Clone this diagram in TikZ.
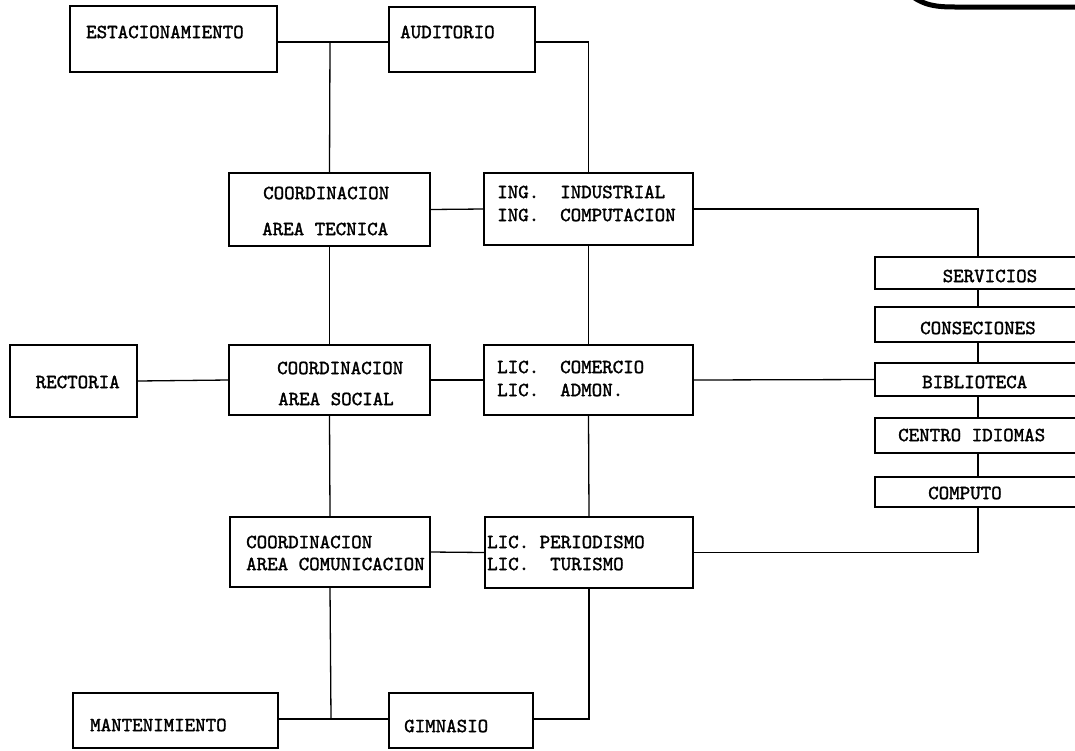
\documentclass[tikz,border=0pt]{standalone}
\usepackage{fontspec}
\newfontfamily\tw{lmmono10-regular.otf}[FakeBold=1.6]
\begin{document}
\begin{tikzpicture}[x=1pt,y=-1pt,
  box/.style={draw, line width=1.3pt, inner sep=0pt, rectangle},
  txt/.style={font=\tw\fontsize{20}{24}\selectfont, anchor=west, inner sep=0pt},
  link/.style={line width=1.3pt}]
\useasboundingbox (0,0) rectangle (1075,750);
% boxes
\node[box, minimum width=207pt, minimum height=66pt] (est) at (173.5,39) {};
\node[box, minimum width=146pt, minimum height=65pt] (aud) at (462,39.5) {};
\node[box, minimum width=201pt, minimum height=73pt] (tec) at (329.5,209.5) {};
\node[box, minimum width=209pt, minimum height=72pt] (ing) at (588.5,209) {};
\node[box, minimum width=127pt, minimum height=72pt] (rec) at (73.5,381) {};
\node[box, minimum width=201pt, minimum height=70pt] (soc) at (329.5,380) {};
\node[box, minimum width=209pt, minimum height=70pt] (com) at (588.5,380) {};
\node[box, minimum width=200pt, minimum height=70pt] (cmc) at (330,552) {};
\node[box, minimum width=208pt, minimum height=71pt] (per) at (589,552.5) {};
\node[box, minimum width=205pt, minimum height=55pt] (man) at (175.5,720.5) {};
\node[box, minimum width=144pt, minimum height=55pt] (gim) at (461,720.5) {};
\node[box, minimum width=206pt, minimum height=32pt] (ser) at (978,273) {};
\node[box, minimum width=206pt, minimum height=35pt] (con) at (978,324.5) {};
\node[box, minimum width=206pt, minimum height=33pt] (bib) at (978,379.5) {};
\node[box, minimum width=206pt, minimum height=35pt] (cid) at (978,435.5) {};
\node[box, minimum width=206pt, minimum height=30pt] (cpu) at (978,492) {};
% texts
\node[txt] (t1) at (86,32) {ESTACIONAMIENTO};
\node[txt] (t2) at (400,32) {AUDITORIO};
\node[txt] (t3) at (263,193) {COORDINACION};
\node[txt] (t4) at (262,229) {AREA TECNICA};
\node[txt] (t5) at (497,192) {ING.\ \ INDUSTRIAL};
\node[txt] (t6) at (497,215) {ING.\ \ COMPUTACION};
\node[txt] (t7) at (35.5,382) {RECTORIA};
\node[txt] (t8) at (277,368) {COORDINACION};
\node[txt] (t9) at (278,399) {AREA SOCIAL};
\node[txt] (t10) at (497,367) {LIC.\ \ COMERCIO};
\node[txt] (t11) at (497,390) {LIC.\ \ ADMON.};
\node[txt] (t12) at (942.5,276) {SERVICIOS};
\node[txt] (t13) at (920,328) {CONSECIONES};
\node[txt] (t14) at (922,382) {BIBLIOTECA};
\node[txt] (t15) at (898,435) {CENTRO IDIOMAS};
\node[txt] (t16) at (928,493) {COMPUTO};
\node[txt] (t17) at (246,542) {COORDINACION};
\node[txt] (t18) at (246,564) {AREA COMUNICACION};
\node[txt] (t19) at (487,542) {LIC.\ PERIODISMO};
\node[txt] (t20) at (487,564) {LIC.\ \ TURISMO};
\node[txt] (t21) at (90,725) {MANTENIMIENTO};
\node[txt] (t22) at (404,726) {GIMNASIO};
% junctions
\coordinate (j1) at (330,42);
\coordinate (j2) at (331,719);
% connectors
\draw[link] (est.east |- j1) -- (aud.west |- j1);
\draw[link] (j1) -- (tec.north);
\draw[link] (aud.east |- j1) -| (ing.north);
\draw[link] (tec.east) -- (ing.west);
\draw[link] (ing.east) -| (ser.north);
\draw[link] (ser.south) -- (con.north);
\draw[link] (con.south) -- (bib.north);
\draw[link] (bib.south) -- (cid.north);
\draw[link] (cid.south) -- (cpu.north);
\draw[link] (cpu.south) |- (per.east);
\draw[link] (tec.south) -- (soc.north);
\draw[link] (rec.east) -- (soc.west);
\draw[link] (soc.east) -- (com.west);
\draw[link] (com.east) -- (bib.west);
\draw[link] (ing.south) -- (com.north);
\draw[link] (soc.south) -- (cmc.north);
\draw[link] (com.south) -- (per.north);
\draw[link] (cmc.east) -- (per.west);
\draw[link] (cmc.south) -- (j2);
\draw[link] (man.east |- j2) -- (gim.west |- j2);
\draw[link] (gim.east |- j2) -| (per.south);
% stamp edge top right
\draw[line width=5pt] (913,-3) .. controls (925,5) and (935,7) .. (955,7) -- (1085,7);
\end{tikzpicture}
\end{document}
